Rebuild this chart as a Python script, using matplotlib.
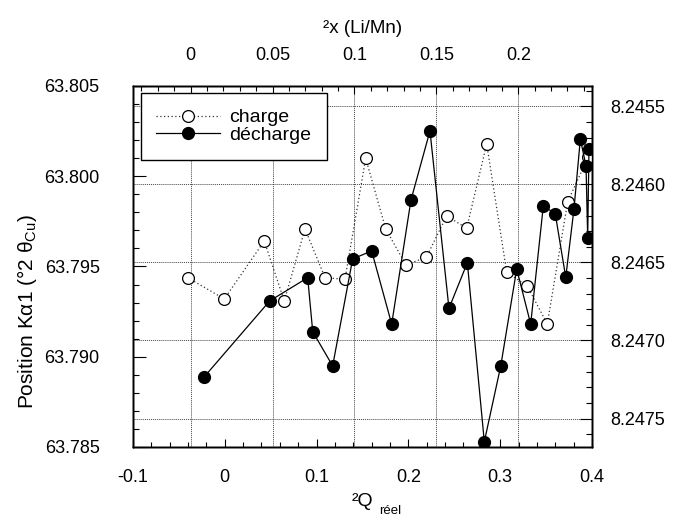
import numpy as np
import matplotlib
matplotlib.use("Agg")
import matplotlib.pyplot as plt
from matplotlib.ticker import MultipleLocator

plt.rcParams["font.family"] = ["Liberation Sans", "DejaVu Sans"]
plt.rcParams["mathtext.fontset"] = "custom"
plt.rcParams["mathtext.rm"] = "Liberation Sans"

# charge (open circles, dotted)
q_charge = [-0.0404, -0.0005, 0.0430, 0.0648, 0.0874, 0.1092, 0.1309, 0.1535,
            0.1753, 0.1974, 0.2197, 0.2417, 0.2635, 0.2853, 0.3071, 0.3295,
            0.3513, 0.3735, 0.3960]
pos_charge = [63.79438, 63.79320, 63.79641, 63.79309, 63.79708, 63.79438,
              63.79429, 63.80099, 63.79708, 63.79508, 63.79553, 63.79780,
              63.79712, 63.80179, 63.79468, 63.79392, 63.79181, 63.79859,
              63.80108]

# décharge (filled circles, solid)
q_decharge = [-0.0223, 0.0489, 0.0903, 0.0958, 0.1175, 0.1393, 0.1600, 0.1818,
              0.2028, 0.2235, 0.2442, 0.2642, 0.2827, 0.3006, 0.3180, 0.3332,
              0.3470, 0.3600, 0.3714, 0.3804, 0.3873, 0.3935, 0.3953, 0.3967]
pos_decharge = [63.78889, 63.79309, 63.79438, 63.79139, 63.78949, 63.79542,
                63.79586, 63.79181, 63.79868, 63.80251, 63.79268, 63.79521,
                63.78529, 63.78949, 63.79486, 63.79181, 63.79837, 63.79791,
                63.79440, 63.79820, 63.80206, 63.80057, 63.79660, 63.80149]

ylim = (63.785, 63.805)
qlim = (-0.1, 0.4)
xlim_top = (-0.0352, 0.2450)


def bragg(two_theta, lam=1.5406, hkl2=32):
    # lattice parameter from 2theta of the (440) line
    return lam * np.sqrt(hkl2) / (2 * np.sin(np.radians(two_theta / 2)))


fs = 13
fig = plt.figure(figsize=(6.84, 5.18), dpi=100)
ax = fig.add_axes([0.1944, 0.1371, 0.6711, 0.6969])
axr = ax.twinx()
axt = ax.twiny()
ax.set_zorder(3)
ax.patch.set_visible(False)

ax.set_xlim(*qlim)
ax.set_ylim(*ylim)
axr.set_ylim(bragg(ylim[0]), bragg(ylim[1]))
axt.set_xlim(*xlim_top)

ax.xaxis.set_major_locator(MultipleLocator(0.1))
ax.xaxis.set_minor_locator(MultipleLocator(0.02))
ax.yaxis.set_major_locator(MultipleLocator(0.005))
ax.yaxis.set_minor_locator(MultipleLocator(0.001))
ax.xaxis.set_major_formatter(lambda v, p: f"{v:g}")
ax.yaxis.set_major_formatter(lambda v, p: f"{v:.3f}")
axr.yaxis.set_major_locator(MultipleLocator(0.0005))
axr.yaxis.set_minor_locator(MultipleLocator(0.0001))
axr.yaxis.set_major_formatter(lambda v, p: f"{v:.4f}")
axt.xaxis.set_major_locator(MultipleLocator(0.05))
axt.xaxis.set_minor_locator(MultipleLocator(0.01))
axt.xaxis.set_major_formatter(lambda v, p: f"{v:g}")

ax.tick_params(which="both", direction="in", labelsize=fs, width=0.8)
ax.tick_params(axis="y", which="major", length=9, pad=24)
ax.tick_params(axis="y", which="minor", length=4.5)
ax.tick_params(axis="x", which="major", length=6, pad=16)
ax.tick_params(axis="x", which="minor", length=3.5)
axr.tick_params(which="both", direction="in", labelsize=fs, width=0.8)
axr.tick_params(which="major", length=9, pad=13)
axr.tick_params(which="minor", length=4.5)
axt.tick_params(which="both", direction="in", labelsize=fs, width=0.8)
axt.tick_params(which="major", length=6, pad=16)
axt.tick_params(which="minor", length=3.5)

for a in (ax, axr, axt):
    for s in a.spines.values():
        s.set_linewidth(1.0)

# grid follows the top and right scales
axt.grid(True, which="major", axis="x", color="#444444", ls=(0, (1, 1)), lw=0.7)
axr.grid(True, which="major", axis="y", color="#444444", ls=(0, (1, 1)), lw=0.7)

ax.plot(q_charge, pos_charge, color="#333333", ls=(0, (1, 2)), lw=0.9,
        marker="o", ms=8.5, mfc="white", mec="black", mew=0.9, label="charge")
ax.plot(q_decharge, pos_decharge, color="black", ls="-", lw=0.9,
        marker="o", ms=8.5, mfc="black", mec="black", label="décharge")

leg = ax.legend(loc="upper left", bbox_to_anchor=(0.017, 0.98), fontsize=14,
                frameon=True, fancybox=False, framealpha=1, edgecolor="black",
                borderaxespad=0, handlelength=3.3, handletextpad=0.46,
                labelspacing=0.0, borderpad=0.8)
leg.get_frame().set_linewidth(1.0)

ax.set_ylabel("Position K\u03b11 (\u00b02 \u03b8$_{\\mathregular{Cu}}$)", fontsize=15)
ax.yaxis.set_label_coords(-0.205, 0.375)
ax.set_xlabel("\u00b2Q", fontsize=14, labelpad=5)
ax.text(0.56, -0.177, "réel", transform=ax.transAxes, fontsize=9.5,
        ha="center", va="center")
axt.set_xlabel("\u00b2x (Li/Mn)", fontsize=13.5, labelpad=10)

fig.savefig("out.png", dpi=100)
